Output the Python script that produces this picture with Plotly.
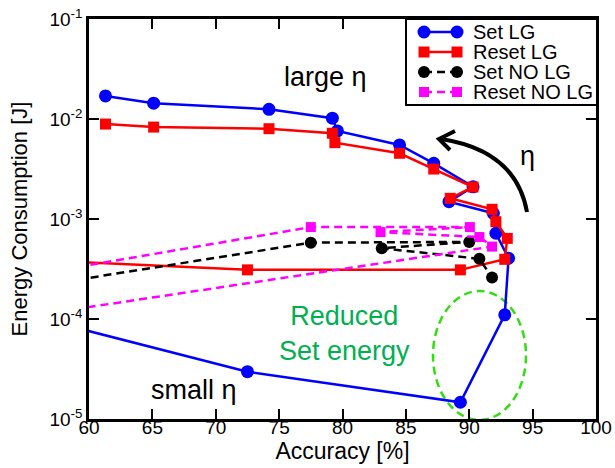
import plotly.graph_objects as go

# ---------------- data ----------------
set_lg_acc = [61.3, 65.1, 74.2, 79.2, 79.6, 84.5, 87.2, 90.3, 88.4, 91.9, 92.1, 93.1, 92.8, 89.3, 72.5, 50.0]
set_lg_e = [0.0170, 0.0144, 0.0125, 0.0102, 0.0076, 0.0055, 0.0036, 0.0021, 0.00149, 0.00114,
            0.00072, 0.000405, 0.000110, 1.47e-5, 2.97e-5, 1.6e-4]

reset_lg_acc = [61.3, 65.1, 74.2, 79.2, 79.4, 84.5, 87.2, 90.3, 88.5, 91.8, 92.1, 93.0, 92.8, 89.3, 72.5, 50.0]
reset_lg_e = [0.0089, 0.0083, 0.0080, 0.0072, 0.0058, 0.00454, 0.00316, 0.00209, 0.00161, 0.00125,
              0.00094, 0.00064, 0.000395, 0.00031, 0.00031, 0.00042]

set_nolg_acc = [50.0, 77.5, 90.0, 83.1, 90.8, 91.8]
set_nolg_e = [1.62e-4, 5.8e-4, 5.9e-4, 5.1e-4, 4.0e-4, 2.6e-4]

reset_nolg_acc = [50.0, 77.5, 90.05, 83.0, 90.8, 91.8, 50.0]
reset_nolg_e = [2.1e-4, 8.3e-4, 8.3e-4, 7.4e-4, 6.6e-4, 5.3e-4, 8.5e-5]

series_names = ["Set LG", "Reset LG", "Set NO LG", "Reset NO LG"]
series_colors = ["#0000ff", "#ff0000", "#000000", "#ff00ff"]
series_symbols = ["circle", "square", "circle", "square"]
series_dash = ["solid", "solid", "8px,5px", "8px,5px"]
series_msize = [13, 11, 12, 10]

x_ticks = [60, 65, 70, 75, 80, 85, 90, 95, 100]
y_ticks = [1e-5, 1e-4, 1e-3, 1e-2, 1e-1]
y_ticktext = ["10<sup>-5</sup>", "10<sup>-4</sup>", "10<sup>-3</sup>", "10<sup>-2</sup>", "10<sup>-1</sup>"]

FONT = "Liberation Sans, Arial, sans-serif"
W, H = 615, 468
ML, MR, MT, MB = 89, 19, 19, 49
PW, PH = W - ML - MR, H - MT - MB


def px2paper(px, py):
    return (px - ML) / PW, (H - MB - py) / PH


fig = go.Figure()
all_x = [set_lg_acc, reset_lg_acc, set_nolg_acc, reset_nolg_acc]
all_y = [set_lg_e, reset_lg_e, set_nolg_e, reset_nolg_e]
for xs, ys, nm, col, sym, dsh, ms in zip(all_x, all_y, series_names, series_colors,
                                         series_symbols, series_dash, series_msize):
    fig.add_trace(go.Scatter(x=xs, y=ys, name=nm, mode="lines+markers",
                             line=dict(color=col, width=2.5, dash=dsh),
                             marker=dict(symbol=sym, size=ms, color=col),
                             showlegend=False))

# dashed green ellipse
ex0, ey0 = px2paper(433, 420)
ex1, ey1 = px2paper(526, 291)
fig.add_shape(type="circle", xref="paper", yref="paper", x0=ex0, x1=ex1, y0=ey0, y1=ey1,
              line=dict(color="#33dd11", width=2.5, dash="8px,5px"), layer="below")

# curved eta arrow
p0 = px2paper(527, 212)
c0 = px2paper(516, 150.5)
p2 = px2paper(441, 139)
fig.add_shape(type="path", xref="paper", yref="paper",
              path=f"M {p0[0]},{p0[1]} Q {c0[0]},{c0[1]} {p2[0]},{p2[1]}",
              line=dict(color="black", width=4))
w1 = px2paper(455, 131)
tip = px2paper(439, 139)
w2 = px2paper(450, 150)
fig.add_shape(type="path", xref="paper", yref="paper",
              path=f"M {w1[0]},{w1[1]} L {tip[0]},{tip[1]} L {w2[0]},{w2[1]}",
              line=dict(color="black", width=4))

ann_font = dict(family=FONT, size=27, color="black")
for txt, (ax, ay) in [("large η", (325, 77)), ("small η", (194, 390)), ("η", (527, 156))]:
    qx, qy = px2paper(ax, ay)
    fig.add_annotation(x=qx, y=qy, xref="paper", yref="paper", text=txt, showarrow=False,
                       font=ann_font, xanchor="center", yanchor="middle")
qx, qy = px2paper(344, 333)
fig.add_annotation(x=qx, y=qy, xref="paper", yref="paper", text="Reduced<br>Set energy",
                   showarrow=False, font=dict(family=FONT, size=27, color="#00b050"),
                   xanchor="center", yanchor="middle")

# ---------------- legend box (drawn like the original) ----------------
bx0, by0 = px2paper(406, 105)
bx1, by1 = px2paper(597, 19)
fig.add_shape(type="rect", xref="paper", yref="paper", x0=bx0, x1=bx1, y0=by0, y1=by1,
              line=dict(color="black", width=2), fillcolor="white", layer="above")
row_y = [32, 52, 72, 92]
for ry, nm, col, sym, dsh, ms in zip(row_y, series_names, series_colors, series_symbols,
                                     series_dash, series_msize):
    la = px2paper(424, ry)
    lb = px2paper(457, ry)
    fig.add_shape(type="line", xref="paper", yref="paper", x0=la[0], x1=lb[0], y0=la[1], y1=lb[1],
                  line=dict(color=col, width=2.5, dash=dsh), layer="above")
    r = ms / 2
    for cx in (424, 457):
        m0 = px2paper(cx - r, ry + r)
        m1 = px2paper(cx + r, ry - r)
        fig.add_shape(type="circle" if sym == "circle" else "rect", xref="paper", yref="paper",
                      x0=m0[0], x1=m1[0], y0=m0[1], y1=m1[1],
                      line=dict(color=col, width=0), fillcolor=col, layer="above")
    tx, ty = px2paper(471, ry)
    fig.add_annotation(x=tx, y=ty, xref="paper", yref="paper", text=nm, showarrow=False,
                       font=dict(family=FONT, size=20, color="black"),
                       xanchor="left", yanchor="middle")

axis_common = dict(showline=True, linecolor="black", linewidth=2.5, mirror="ticks",
                   ticks="inside", ticklen=10, tickwidth=2, tickcolor="black",
                   showgrid=False, zeroline=False,
                   tickfont=dict(family=FONT, size=19, color="black"))

fig.update_xaxes(range=[60, 100], tickvals=x_ticks, ticklabelstandoff=-11,
                 title=dict(text="Accuracy [%]", font=dict(family=FONT, size=23, color="black"), standoff=0),
                 **axis_common)
fig.update_yaxes(type="log", range=[-5, -1], tickvals=y_ticks, ticktext=y_ticktext,
                 title=dict(text="Energy Consumption [J]", font=dict(family=FONT, size=22, color="black"), standoff=16),
                 **axis_common)

fig.update_layout(
    width=W, height=H,
    margin=dict(l=ML, r=MR, t=MT, b=MB, autoexpand=False),
    plot_bgcolor="white", paper_bgcolor="white",
    font=dict(family=FONT, color="black"),
    showlegend=False,
)

fig.write_html("out.html")
